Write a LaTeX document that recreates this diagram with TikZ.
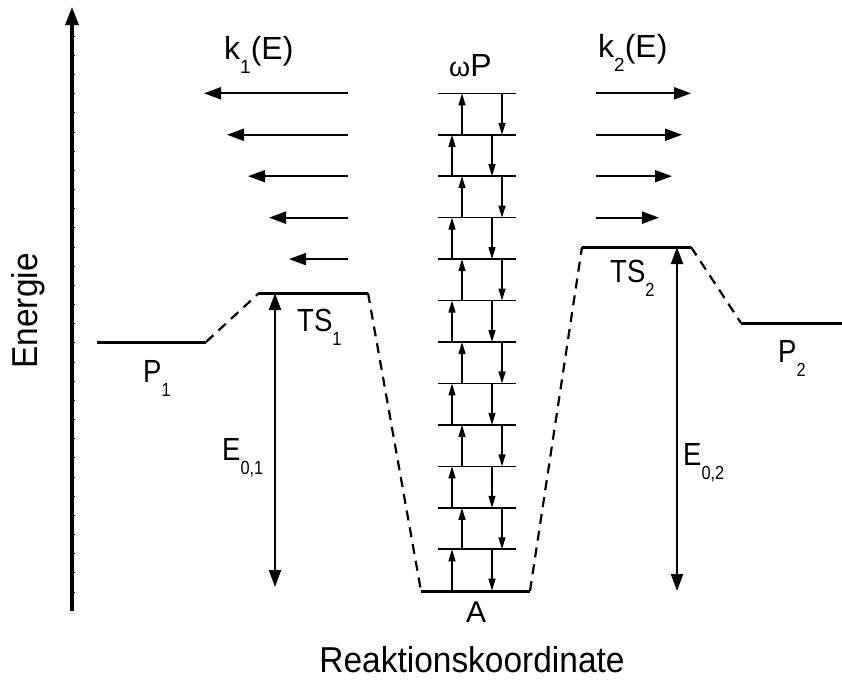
\documentclass[tikz,border=0pt]{standalone}
\usepackage{fontspec}
\setmainfont{Liberation Sans}
\newfontfamily\narrowsans[FakeStretch=0.86]{Liberation Sans}
\newfontfamily\widesans[FakeStretch=0.93]{Liberation Sans}
\usetikzlibrary{arrows.meta}
\newcommand{\lowsub}[1]{\raisebox{-0.45em}{\fontsize{19}{19}\selectfont #1}}
\tikzset{
  level/.style={line width=3pt},
  sublevel/.style={line width=1.6pt},
  barrier/.style={line width=2.2pt, dash pattern=on 10pt off 7pt},
  rate/.style={line width=2pt, -{Triangle[length=17pt,width=12pt]}},
  hop/.style={line width=1.3pt, -{Triangle[length=12pt,width=7pt]}},
  depth/.style={line width=2pt, {Triangle[length=17pt,width=12pt]}-{Triangle[length=17pt,width=12pt]}},
  lbl/.style={font=\narrowsans\fontsize{32}{34}\selectfont, inner sep=0pt, anchor=base west},
  ratelbl/.style={font=\fontsize{32}{34}\selectfont, inner sep=0pt, anchor=base west},
  big/.style={font=\widesans\fontsize{36}{38}\selectfont, inner sep=0pt},
}
\begin{document}
\begin{tikzpicture}[x=1pt, y=-1pt]
  \useasboundingbox (0,0) rectangle (842,680);

  % Energy axis
  \draw[line width=3.5pt, -{Triangle[length=18pt,width=13pt]}] (72,611) -- (72,7);
  \foreach \k in {0,...,29} {
    \draw[line width=0.6pt] (72,{36+19.17*\k}) -- ++(3.2,0);
  }
  \node[big, rotate=90] (energy) at (28,311) {Energie};

  % Levels
  \coordinate (P1w) at (97,342);  \coordinate (P1e) at (206,342);
  \coordinate (TS1w) at (259,293); \coordinate (TS1e) at (368,293);
  \coordinate (Aw) at (421,591);  \coordinate (Ae) at (530,591);
  \coordinate (TS2w) at (582,247); \coordinate (TS2e) at (691,247);
  \coordinate (P2w) at (741,323); \coordinate (P2e) at (842,323);
  \draw[level] (P1w) -- (P1e);
  \draw[level] (TS1w) -- (TS1e);
  \draw[level] (Aw) -- (Ae);
  \draw[level] (TS2w) -- (TS2e);
  \draw[level] (P2w) -- (P2e);

  % Barriers
  \draw[barrier] (P1e) -- (TS1w);
  \draw[barrier] (TS1e) -- (Aw);
  \draw[barrier] (Ae) -- (TS2w);
  \draw[barrier] (TS2e) -- (P2w);

  % Ladder of excited states
  \foreach \k in {0,...,11} {
    \draw[sublevel] (438,{93.3+41.45*\k}) -- (516,{93.3+41.45*\k});
  }
  \foreach \k in {0,...,11} {
    \pgfmathsetmacro{\ytop}{93.3+41.45*\k}
    \pgfmathsetmacro{\ybot}{\ytop+41.45}
    \pgfmathsetmacro{\xo}{isodd(\k) ? 0 : 10}
    \draw[hop] ({452+\xo},\ybot) -- ({452+\xo},\ytop);
    \draw[hop] ({492+\xo},\ytop) -- ({492+\xo},\ybot);
  }

  % Rate arrows
  \foreach \tip [count=\i from 0] in {204,227,248,269,289} {
    \draw[rate] (348,{93.3+41.45*\i}) -- (\tip,{93.3+41.45*\i});
  }
  \foreach \tip [count=\i from 0] in {691,682,672,659} {
    \draw[rate] (596,{93.3+41.45*\i}) -- (\tip,{93.3+41.45*\i});
  }

  % Barrier heights
  \coordinate (E1top) at (275,293); \coordinate (E1bot) at (275,587);
  \coordinate (E2top) at (677,247); \coordinate (E2bot) at (677,591);
  \draw[depth] (E1top) -- (E1bot);
  \draw[depth] (E2top) -- (E2bot);

  % Labels
  \node[ratelbl] (k1) at (224,59) {k\lowsub{1}(E)};
  \node[ratelbl] (k2) at (598,57) {k\lowsub{2}(E)};
  \node[ratelbl] (omegaP) at (449,76) {{\fontsize{27}{27}\selectfont ω}P};
  \node[lbl] (ts1) at (297,331) {TS\lowsub{1}};
  \node[lbl] (p1) at (143,382) {P\lowsub{1}};
  \node[lbl] (ts2) at (610,282) {TS\lowsub{2}};
  \node[lbl] (p2) at (778,362) {P\lowsub{2}};
  \node[lbl] (e01) at (222,460) {E\lowsub{0,1}};
  \node[lbl] (e02) at (683,465) {E\lowsub{0,2}};
  \node[font=\fontsize{30}{32}\selectfont, inner sep=0pt] (a) at (476,612) {A};
  \node[big] (xlabel) at (472,660) {Reaktionskoordinate};
\end{tikzpicture}
\end{document}
